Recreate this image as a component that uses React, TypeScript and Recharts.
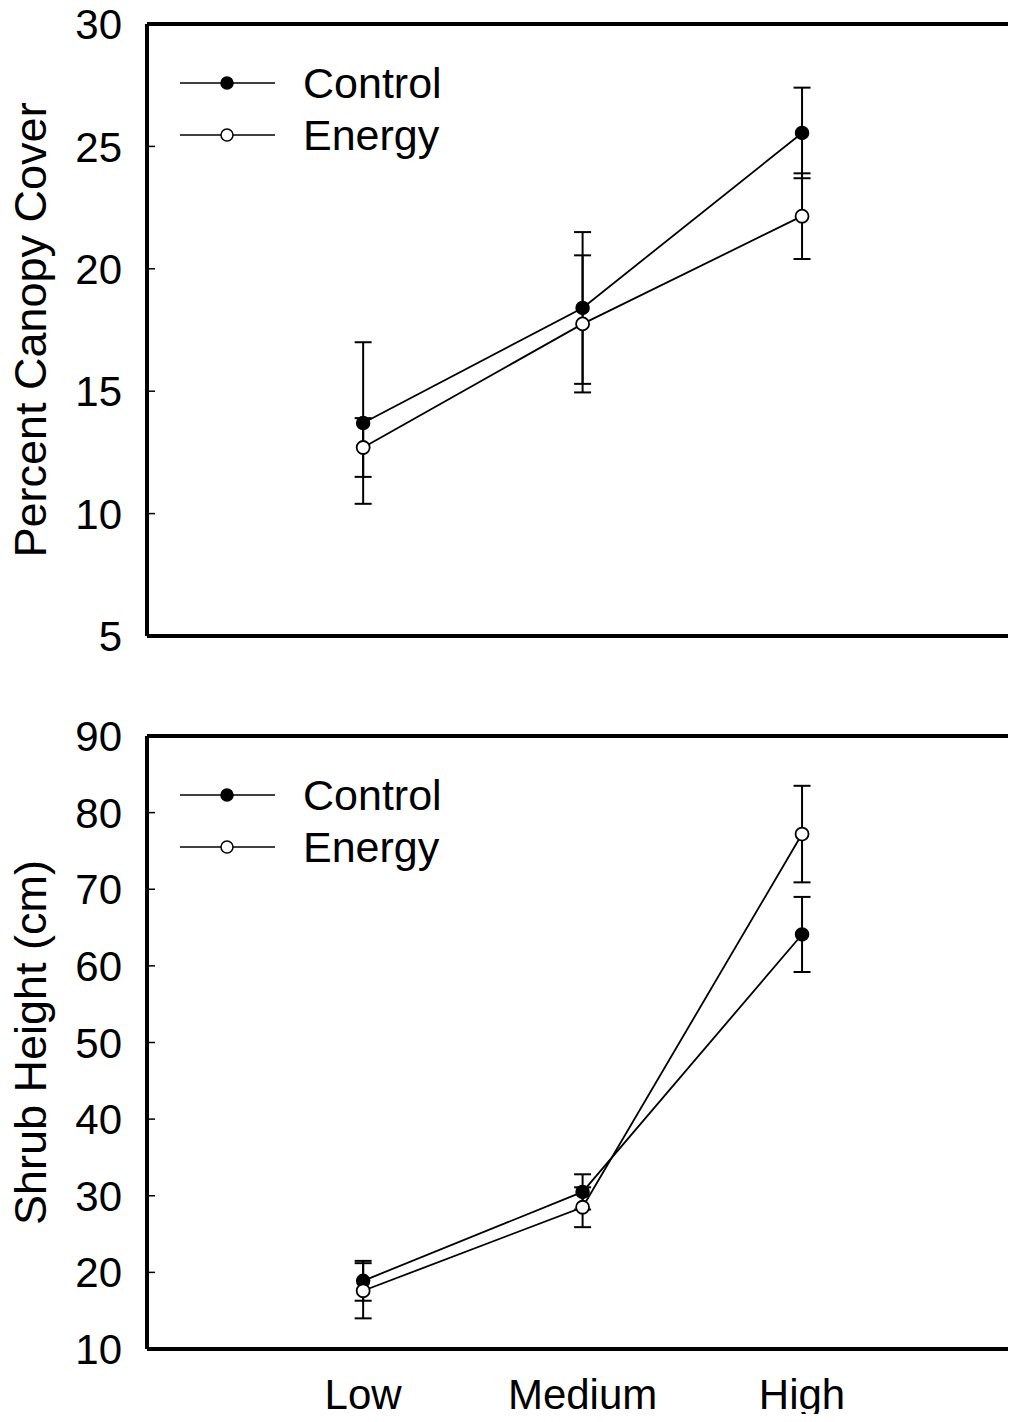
import { ErrorBar, Legend, Line, LineChart, ReferenceLine, XAxis, YAxis } from "recharts";

const categories = ["Low", "Medium", "High"];
const xPositions = [0, 1, 2];
const seriesNames = ["Control", "Energy"];

// upper panel: percent canopy cover (mean, error)
const canopyControl = [13.7, 18.4, 25.55];
const canopyControlErr = [3.3, 3.1, 1.85];
const canopyEnergy = [12.7, 17.75, 22.15];
const canopyEnergyErr = [1.2, 2.8, 1.75];
const canopyTicks = [5, 10, 15, 20, 25, 30];

// lower panel: shrub height (cm)
const shrubControl = [18.9, 30.5, 64.1];
const shrubControlErr = [2.6, 2.3, 4.9];
const shrubEnergy = [17.6, 28.5, 77.2];
const shrubEnergyErr = [3.6, 2.6, 6.3];
const shrubTicks = [10, 20, 30, 40, 50, 60, 70, 80, 90];

const FONT = "'Liberation Sans', Arial, Helvetica, sans-serif";
const X_DOMAIN: [number, number] = [-0.985, 2.975];

function buildRows(c: number[], cErr: number[], e: number[], eErr: number[]) {
  return xPositions.map((x, i) => ({
    x,
    control: c[i],
    controlErr: cErr[i],
    energy: e[i],
    energyErr: eErr[i],
  }));
}

function YTick(props: any) {
  const { x, y, payload } = props;
  return (
    <g>
      <line x1={x} x2={x + 8} y1={y} y2={y} stroke="#000" strokeWidth={1.5} />
      <text x={x - 25} y={y} dy="0.36em" textAnchor="end" fontSize={42} fontFamily={FONT} fill="#000">
        {payload.value}
      </text>
    </g>
  );
}

function XTick(props: any) {
  const { x, y, payload } = props;
  return (
    <text x={x} y={y + 60} textAnchor="middle" fontSize={42} fontFamily={FONT} fill="#000">
      {categories[payload.value]}
    </text>
  );
}

function AxisTitle({ text, cy }: { text: string; cy: number }) {
  const x = 30;
  return (
    <text
      x={x}
      y={cy}
      dy="0.35em"
      transform={`rotate(-90 ${x} ${cy})`}
      textAnchor="middle"
      fontSize={45}
      fontFamily={FONT}
      fill="#000"
    >
      {text}
    </text>
  );
}

function LegendBox() {
  return (
    <svg width={420} height={120}>
      {seriesNames.map((name, i) => {
        const y = 30 + i * 52;
        return (
          <g key={name}>
            <line x1={10} x2={105} y1={y} y2={y} stroke="#000" strokeWidth={1.5} />
            <circle cx={57} cy={y} r={6} fill={i === 0 ? "#000" : "#fff"} stroke="#000" strokeWidth={1.5} />
            <text x={133} y={y} dy="0.36em" fontSize={43} fontFamily={FONT} fill="#000">
              {name}
            </text>
          </g>
        );
      })}
    </svg>
  );
}

interface PanelProps {
  rows: ReturnType<typeof buildRows>;
  domain: [number, number];
  ticks: number[];
  title: string;
  height: number;
  top: number;
  bottom: number;
  xAxisHeight: number;
  showXLabels: boolean;
  legendTop: number;
}

function Panel({ rows, domain, ticks, title, height, top, bottom, xAxisHeight, showXLabels, legendTop }: PanelProps) {
  const plotHeight = height - top - bottom - xAxisHeight;
  return (
    <LineChart
      width={1016}
      height={height}
      data={rows}
      margin={{ top, right: 0, bottom, left: 0 }}
      style={{ overflow: "visible" }}
    >
      <XAxis
        dataKey="x"
        type="number"
        domain={X_DOMAIN}
        ticks={xPositions}
        allowDataOverflow
        height={xAxisHeight}
        tickSize={0}
        tickMargin={0}
        tickLine={false}
        tick={showXLabels ? <XTick /> : false}
        axisLine={{ stroke: "#000", strokeWidth: 4 }}
      />
      <YAxis
        type="number"
        domain={domain}
        ticks={ticks}
        width={147}
        tickSize={0}
        tickMargin={0}
        tickLine={false}
        tick={<YTick />}
        axisLine={{ stroke: "#000", strokeWidth: 4 }}
        label={<AxisTitle text={title} cy={top + plotHeight / 2} />}
      />
      <ReferenceLine y={domain[1]} stroke="#000" strokeWidth={4} ifOverflow="visible" />
      <ReferenceLine y={domain[0]} stroke="#000" strokeWidth={4} ifOverflow="visible" />
      <Legend
        layout="horizontal"
        verticalAlign="middle"
        align="center"
        content={() => <LegendBox />}
        wrapperStyle={{ position: "absolute", left: 170, top: legendTop, width: 420, height: 120 }}
      />
      <Line
        dataKey="control"
        name="Control"
        stroke="#000"
        strokeWidth={1.8}
        dot={{ r: 6.5, fill: "#000", stroke: "#000", strokeWidth: 1.5 }}
        isAnimationActive={false}
      >
        <ErrorBar dataKey="controlErr" direction="y" width={8.5} stroke="#000" strokeWidth={2} isAnimationActive={false} />
      </Line>
      <Line
        dataKey="energy"
        name="Energy"
        stroke="#000"
        strokeWidth={1.8}
        dot={{ r: 6.5, fill: "#fff", stroke: "#000", strokeWidth: 1.8 }}
        isAnimationActive={false}
      >
        <ErrorBar dataKey="energyErr" direction="y" width={8.5} stroke="#000" strokeWidth={2} isAnimationActive={false} />
      </Line>
    </LineChart>
  );
}

export default function App() {
  const canopyRows = buildRows(canopyControl, canopyControlErr, canopyEnergy, canopyEnergyErr);
  const shrubRows = buildRows(shrubControl, shrubControlErr, shrubEnergy, shrubEnergyErr);
  return (
    <div style={{ width: 1016, margin: "-8px 0 -8px -8px", fontFamily: FONT, background: "#fff" }}>
      <style>{"html, body { overflow: hidden; }"}</style>
      <Panel
        rows={canopyRows}
        domain={[5, 30]}
        ticks={canopyTicks}
        title="Percent Canopy Cover"
        height={708}
        top={24}
        bottom={72}
        xAxisHeight={0}
        showXLabels={false}
        legendTop={53}
      />
      <Panel
        rows={shrubRows}
        domain={[10, 90]}
        ticks={shrubTicks}
        title="Shrub Height (cm)"
        height={714}
        top={28}
        bottom={0}
        xAxisHeight={73}
        showXLabels
        legendTop={57}
      />
    </div>
  );
}
